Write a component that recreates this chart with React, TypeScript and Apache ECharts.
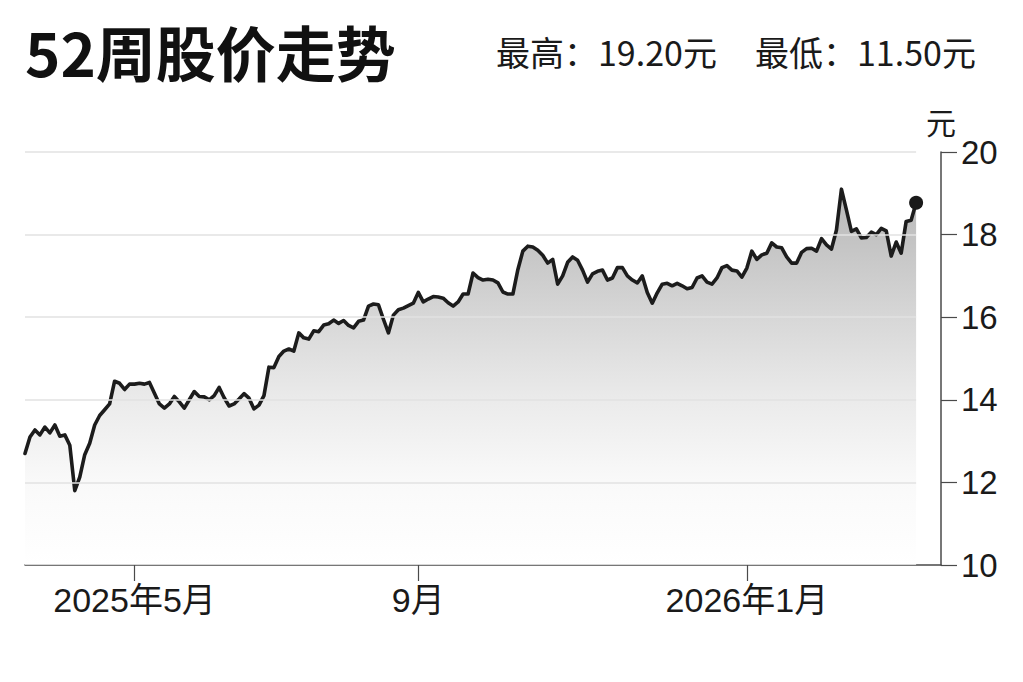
import React, { useEffect, useRef } from 'react';
import * as echarts from 'echarts';

// ---- Data ----
const prices: number[] = [
  12.7, 13.1, 13.27, 13.15, 13.34, 13.2, 13.39, 13.12, 13.15, 12.9,
  11.8, 12.13, 12.67, 12.95, 13.39, 13.62, 13.76, 13.9, 14.45, 14.4,
  14.25, 14.38, 14.38, 14.4, 14.38, 14.42, 14.16, 13.9, 13.8, 13.9,
  14.08, 13.95, 13.8, 14.0, 14.2, 14.08, 14.07, 14.0, 14.1, 14.3,
  14.05, 13.85, 13.9, 14.02, 14.15, 14.04, 13.78, 13.87, 14.1, 14.79,
  14.78, 15.05, 15.18, 15.23, 15.18, 15.62, 15.5, 15.47, 15.67, 15.65,
  15.81, 15.84, 15.93, 15.85, 15.92, 15.8, 15.74, 15.9, 15.93, 16.27,
  16.32, 16.3, 15.95, 15.62, 16.05, 16.18, 16.22, 16.28, 16.34, 16.6,
  16.37, 16.44, 16.5, 16.49, 16.46, 16.35, 16.27, 16.37, 16.56, 16.56,
  17.07, 16.96, 16.9, 16.92, 16.9, 16.83, 16.61, 16.56, 16.56, 17.15,
  17.6, 17.72, 17.7, 17.62, 17.5, 17.31, 17.4, 16.8, 17.0, 17.33,
  17.46, 17.38, 17.14, 16.85, 17.05, 17.11, 17.14, 16.9, 16.95, 17.2,
  17.2, 17.0, 16.9, 16.83, 17.0, 16.6, 16.34, 16.59, 16.8, 16.82,
  16.76, 16.82, 16.76, 16.69, 16.72, 16.95, 17.0, 16.85, 16.8, 16.95,
  17.2, 17.25, 17.14, 17.12, 16.97, 17.19, 17.6, 17.4, 17.51, 17.55,
  17.8, 17.7, 17.68, 17.46, 17.31, 17.31, 17.57, 17.66, 17.67, 17.6,
  17.9, 17.75, 17.65, 18.11, 19.1, 18.6, 18.08, 18.14, 17.92, 17.93,
  18.06, 18.0, 18.15, 18.09, 17.48, 17.82, 17.55, 18.32, 18.35, 18.77,
];
const tickIndices: number[] = [22, 79, 145];
const tickLabels: string[] = ['2025年5月', '9月', '2026年1月'];
const gridValues: number[] = [12, 14, 16, 18, 20];
const yMin = 10;
const yMax = 20;
const yStep = 2;
const padCount = 5; // empty trailing trading-day slots before the price axis
const titleText = '52周股价走势';
const highText = '最高：19.20元';
const lowText = '最低：11.50元';
const unitText = '元';

const categories: string[] = Array.from(
  { length: prices.length + padCount },
  (_, i) => String(i)
);

const LATIN = '"Liberation Sans", Arial, "Noto Sans CJK SC", sans-serif';
const CJK = '"Noto Sans CJK SC", "Noto Sans", sans-serif';
const AXIS_COLOR = '#4a4a4a';
const TEXT_COLOR = '#1a1a1a';

export default function App() {
  const ref = useRef<HTMLDivElement>(null);

  useEffect(() => {
    document.body.style.margin = '0';
    if (!ref.current) return;
    const chart = echarts.init(ref.current, undefined, { renderer: 'svg' });
    const lastIdx = prices.length - 1;

    const option: any = {
      animation: false,
      backgroundColor: '#ffffff',
      grid: { left: 25, right: 82, top: 152, bottom: 117, containLabel: false },
      xAxis: {
        type: 'category',
        data: categories,
        boundaryGap: false,
        axisLine: { show: true, lineStyle: { color: AXIS_COLOR, width: 1.5 } },
        axisTick: {
          show: true,
          length: 16,
          interval: (index: number) => tickIndices.includes(index),
          lineStyle: { color: AXIS_COLOR, width: 1.2 },
        },
        axisLabel: {
          show: true,
          interval: (index: number) => tickIndices.includes(index),
          formatter: (_v: string, index: number) => {
            const k = tickIndices.indexOf(index);
            return k >= 0 ? tickLabels[k] : '';
          },
          margin: 18,
          fontSize: 34,
          fontFamily: LATIN,
          color: TEXT_COLOR,
        },
        splitLine: { show: false },
      },
      yAxis: {
        type: 'value',
        position: 'right',
        min: yMin,
        max: yMax,
        interval: yStep,
        name: unitText,
        nameLocation: 'end',
        nameGap: 16,
        nameTextStyle: { fontSize: 30, fontFamily: CJK, color: TEXT_COLOR, align: 'center' },
        axisLine: { show: true, lineStyle: { color: AXIS_COLOR, width: 1.5 } },
        axisTick: { show: true, length: 16, lineStyle: { color: AXIS_COLOR, width: 1.2 } },
        axisLabel: { margin: 20, fontSize: 33, fontFamily: LATIN, color: TEXT_COLOR },
        splitLine: { show: false },
      },
      series: [
        {
          type: 'line',
          data: prices,
          symbol: 'none',
          silent: true,
          z: 1,
          lineStyle: { width: 0, opacity: 0 },
          areaStyle: {
            color: new echarts.graphic.LinearGradient(0, 0, 0, 1, [
              { offset: 0, color: '#9a9a9a' },
              { offset: 0.12, color: '#a8a8a8' },
              { offset: 0.34, color: '#c6c6c6' },
              { offset: 0.56, color: '#e2e2e2' },
              { offset: 0.78, color: '#f7f7f7' },
              { offset: 1, color: '#ffffff' },
            ]),
          },
          markLine: {
            silent: true,
            symbol: ['none', 'none'],
            label: { show: false },
            lineStyle: { color: '#e2e2e2', width: 1.6, type: 'solid' },
            data: gridValues.map((v) => [{ coord: [0, v] }, { coord: [lastIdx, v] }]),
          },
        },
        {
          type: 'line',
          data: prices,
          symbol: 'none',
          z: 3,
          lineStyle: { color: '#1c1c1c', width: 3.6, cap: 'round', join: 'round' },
        },
        {
          type: 'scatter',
          data: [[lastIdx, prices[lastIdx]]],
          symbol: 'circle',
          symbolSize: 14,
          z: 4,
          itemStyle: { color: '#1a1a1a', opacity: 1 },
        },
      ],
      graphic: [
        {
          type: 'text',
          x: 25,
          y: 50,
          style: {
            text: titleText,
            fontSize: 60,
            fontWeight: 'bold',
            fontFamily: CJK,
            fill: '#111111',
            align: 'left',
            verticalAlign: 'middle',
          },
        },
        {
          type: 'text',
          x: 496,
          y: 51,
          style: {
            text: highText,
            fontSize: 34,
            fontFamily: CJK,
            fill: TEXT_COLOR,
            align: 'left',
            verticalAlign: 'middle',
          },
        },
        {
          type: 'text',
          x: 755,
          y: 51,
          style: {
            text: lowText,
            fontSize: 34,
            fontFamily: CJK,
            fill: TEXT_COLOR,
            align: 'left',
            verticalAlign: 'middle',
          },
        },
      ],
    };

    chart.setOption(option);
    return () => {
      chart.dispose();
    };
  }, []);

  return <div ref={ref} style={{ width: 1023, height: 682 }} />;
}
